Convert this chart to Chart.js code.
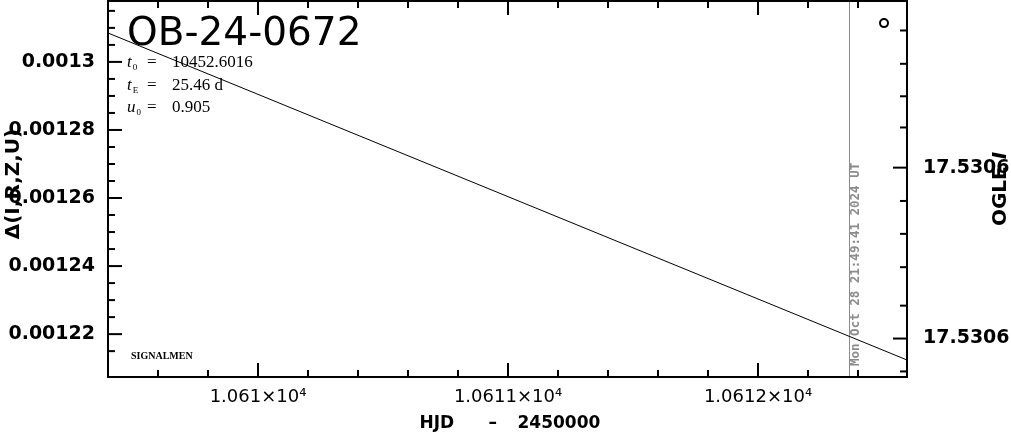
<!DOCTYPE html>
<html>
<head>
<meta charset="utf-8">
<script src="https://cdn.jsdelivr.net/npm/chart.js@4.4.1/dist/chart.umd.min.js"></script>
<style>
html,body{margin:0;padding:0;background:#fff;}
canvas{display:block;}
</style>
</head>
<body>
<canvas id="c" width="1011" height="434"></canvas>
<script>
// ---- data ----
const modelX = [10609.4, 10611.0, 10612.596];
const modelY = [0.0013085, 0.0012604, 0.0012124];
const obsX = [10612.504];
const obsY = [0.0013114];
const nowX = 10612.363;
const nowLabel = 'Mon Oct 28 21:49:41 2024 UT';
const eventName = 'OB-24-0672';
const paramNames = ['t', 't', 'u'];
const paramSubs = ['0', 'E', '0'];
const paramValues = ['10452.6016', '25.46 d', '0.905'];

const xRange = [10609.4, 10612.596];
const xMajor = [10610, 10611, 10612];
const xLabels = ['1.061\u00d710\u2074', '1.0611\u00d710\u2074', '1.0612\u00d710\u2074'];
const xMinor = [10609.6, 10609.8, 10610.2, 10610.4, 10610.6, 10610.8, 10611.2, 10611.4, 10611.6, 10611.8, 10612.2, 10612.4];

const yRange = [0.0012074, 0.0013179];
const yMajor = [0.00122, 0.00124, 0.00126, 0.00128, 0.0013];
const yLabels = ['0.00122', '0.00124', '0.00126', '0.00128', '0.0013'];
const yMinor = [0.000121, 0.001215, 0.001225, 0.00123, 0.001235, 0.001245, 0.00125, 0.001255, 0.001265, 0.00127, 0.001275, 0.001285, 0.00129, 0.001295, 0.001305, 0.00131, 0.001315];

const magRange = [17.530541, 17.530629];
const magMajor = [17.53058, 17.53062];
const magLabels = ['17.5306', '17.5306'];
const magMinor = [17.5305479, 17.5305557, 17.5305633, 17.5305706, 17.5305878, 17.5305955, 17.5306033, 17.5306123, 17.5306277];

// ---- plugin for frame, inward ticks and annotations ----
const decor = {
  id: 'decor',
  beforeDatasetsDraw(chart) {
    const {ctx, chartArea: a, scales} = chart;
    const px = scales.x.getPixelForValue(nowX);
    ctx.save();
    ctx.strokeStyle = '#8c8c8c';
    ctx.lineWidth = 1;
    ctx.beginPath();
    ctx.moveTo(Math.round(px) + 0.5, a.top);
    ctx.lineTo(Math.round(px) + 0.5, a.bottom);
    ctx.stroke();
    // date text
    ctx.translate(px + 7, a.bottom - 11);
    ctx.rotate(-Math.PI / 2);
    ctx.fillStyle = '#8c8c8c';
    ctx.font = 'bold 12.5px "DejaVu Sans Mono"';
    ctx.textAlign = 'left';
    ctx.textBaseline = 'middle';
    ctx.fillText(nowLabel, 0, 0);
    ctx.restore();
  },
  afterDraw(chart) {
    const {ctx, chartArea: a, scales} = chart;
    const xs = scales.x, yl = scales.y, yr = scales.y2;
    ctx.save();
    ctx.strokeStyle = '#000';
    ctx.lineWidth = 2;
    ctx.strokeRect(a.left, a.top, a.right - a.left, a.bottom - a.top);
    const seg = (x1, y1, x2, y2) => { ctx.beginPath(); ctx.moveTo(x1, y1); ctx.lineTo(x2, y2); ctx.stroke(); };
    const tx = (v, len) => { const p = xs.getPixelForValue(v); seg(p, a.bottom, p, a.bottom - len); seg(p, a.top, p, a.top + len); };
    const tyl = (v, len) => { const p = yl.getPixelForValue(v); seg(a.left, p, a.left + len, p); };
    const tyr = (v, len) => { const p = yr.getPixelForValue(v); seg(a.right, p, a.right - len, p); };
    xMajor.forEach(v => tx(v, 14)); xMinor.forEach(v => tx(v, 7));
    yMajor.forEach(v => tyl(v, 14)); yMinor.forEach(v => tyl(v, 7));
    magMajor.forEach(v => tyr(v, 14)); magMinor.forEach(v => tyr(v, 7));

    ctx.fillStyle = '#000';
    ctx.textAlign = 'left';
    ctx.textBaseline = 'alphabetic';
    // event name
    ctx.font = '39px "DejaVu Sans"';
    ctx.fillText(eventName, a.left + 19, a.top + 44);
    // parameters
    for (let i = 0; i < paramNames.length; i++) {
      const by = a.top + 66 + i * 22.5;
      let x = a.left + 19;
      ctx.font = 'italic 17px "Liberation Serif"';
      ctx.fillText(paramNames[i], x, by);
      x += ctx.measureText(paramNames[i]).width + 1;
      ctx.font = '9px "Liberation Serif"';
      ctx.fillText(paramSubs[i], x, by + 3);
      ctx.font = '17px "Liberation Serif"';
      ctx.fillText('=', a.left + 39, by);
      ctx.fillText(paramValues[i], a.left + 64, by);
    }
    // SIGNALMEN
    ctx.font = 'bold 10px "Liberation Serif"';
    ctx.fillText('SIGNALMEN', a.left + 23, a.bottom - 18);

    // x title
    ctx.font = 'bold 17px "DejaVu Sans"';
    ctx.textBaseline = 'alphabetic';
    const cx = (a.left + a.right) / 2;
    const ty = a.bottom + 51;
    ctx.textAlign = 'left';
    ctx.fillText('HJD', cx - 88, ty);
    ctx.fillText('\u2013', cx - 19, ty);
    ctx.fillText('2450000', cx + 10, ty);

    // left title
    ctx.save();
    ctx.translate(14, (a.top + a.bottom) / 2 - 5);
    ctx.rotate(-Math.PI / 2);
    ctx.textAlign = 'center';
    ctx.textBaseline = 'middle';
    ctx.font = 'bold 20px "DejaVu Sans"';
    ctx.fillText('\u0394(I,R,Z,U)', 0, 0);
    ctx.restore();

    // right title
    ctx.save();
    ctx.translate(1001, (a.top + a.bottom) / 2);
    ctx.rotate(-Math.PI / 2);
    ctx.textBaseline = 'middle';
    ctx.font = 'bold 20px "DejaVu Sans"';
    const w1 = ctx.measureText('OGLE ').width;
    ctx.font = 'bold italic 20px "DejaVu Sans"';
    const w2 = ctx.measureText('I').width;
    ctx.textAlign = 'left';
    ctx.font = 'bold 20px "DejaVu Sans"';
    ctx.fillText('OGLE ', -(w1 + w2) / 2, 0);
    ctx.font = 'bold italic 20px "DejaVu Sans"';
    ctx.fillText('I', -(w1 + w2) / 2 + w1, 0);
    ctx.restore();
    ctx.restore();
  }
};

new Chart(document.getElementById('c'), {
  type: 'scatter',
  data: {
    datasets: [
      {
        data: modelX.map((x, i) => ({x, y: modelY[i]})),
        showLine: true, pointRadius: 0, borderColor: '#000', borderWidth: 1, yAxisID: 'y'
      },
      {
        data: obsX.map((x, i) => ({x, y: obsY[i]})),
        showLine: false, pointRadius: 4, pointBorderWidth: 2, pointBorderColor: '#000',
        pointBackgroundColor: 'rgba(0,0,0,0)', yAxisID: 'y'
      }
    ]
  },
  options: {
    responsive: false,
    devicePixelRatio: 1,
    animation: false,
    layout: {autoPadding: false, padding: {top: 1, left: 0, right: 0, bottom: 0}},
    plugins: {legend: {display: false}, tooltip: {enabled: false}},
    scales: {
      x: {
        type: 'linear', position: 'bottom', min: xRange[0], max: xRange[1],
        grid: {display: false, drawTicks: false}, border: {display: false},
        afterBuildTicks: s => { s.ticks = xMajor.map(v => ({value: v})); },
        afterFit: s => { s.height = 57; s.paddingLeft = 0; s.paddingRight = 0; },
        ticks: {autoSkip: false, maxRotation: 0, padding: 10, color: '#000',
          font: {family: '"DejaVu Sans"', size: 18}, callback: (v, i) => xLabels[i]}
      },
      y: {
        type: 'linear', position: 'left', min: yRange[0], max: yRange[1],
        grid: {display: false, drawTicks: false}, border: {display: false},
        afterBuildTicks: s => { s.ticks = yMajor.map(v => ({value: v})); },
        afterFit: s => { s.width = 108; s.paddingTop = 0; s.paddingBottom = 0; },
        ticks: {autoSkip: false, padding: 13, color: '#000',
          font: {family: '"DejaVu Sans"', size: 19, weight: 'bold'}, callback: (v, i) => yLabels[i]}
      },
      y2: {
        type: 'linear', position: 'right', reverse: true, min: magRange[0], max: magRange[1],
        grid: {display: false, drawTicks: false}, border: {display: false},
        afterBuildTicks: s => { s.ticks = magMajor.map(v => ({value: v})); },
        afterFit: s => { s.width = 104; s.paddingTop = 0; s.paddingBottom = 0; },
        ticks: {autoSkip: false, padding: 16, color: '#000',
          font: {family: '"DejaVu Sans"', size: 19, weight: 'bold'}, callback: (v, i) => magLabels[i]}
      }
    }
  },
  plugins: [decor]
});
</script>
</body>
</html>
